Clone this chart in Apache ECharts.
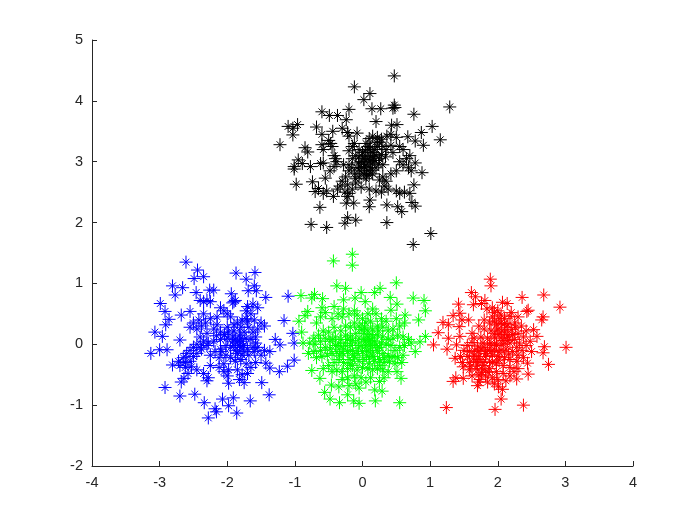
<!DOCTYPE html>
<html>
<head>
<meta charset="utf-8">
<script src="https://cdn.jsdelivr.net/npm/echarts@6/dist/echarts.min.js"></script>
<style>
  html, body { margin: 0; padding: 0; background: #fff; }
  #chart { width: 700px; height: 525px; }
</style>
</head>
<body>
<div id="chart"></div>
<script>
// 四个簇的散点
const blackPoints = [
  [.47,4.41],[-.12,4.23],[.11,4.12],[.02,4.02],[1.29,3.9],[.47,3.93],[.48,3.89],[.45,3.88],[.14,3.87],[.27,3.87],
  [-.2,3.86],[-.6,3.82],[.76,3.78],[-.49,3.76],[-.37,3.76],[-.24,3.69],[.2,3.66],[-1.1,3.58],[-.96,3.61],[-1.03,3.55],
  [-1.03,3.44],[-.68,3.57],[1.03,3.58],[.43,3.6],[.51,3.61],[.87,3.48],[1.15,3.36],[-1.22,3.28],[.67,3.41],[.78,3.34],
  [.9,3.27],[-.85,3.23],[-.81,3.16],[-.95,3.03],[-1.01,2.92],[-1.01,2.88],[-.89,2.97],[-.77,2.92],[-.62,2.97],[-.58,2.98],
  [-.98,2.63],[-.74,2.67],[.88,2.82],[.76,2.62],[-.63,2.25],[.36,2.29],[.52,2.26],[.58,2.18],[.73,2.33],[.78,2.27],
  [-.76,1.97],[-.53,1.92],[-.26,1.99],[-.22,2.08],[-.1,2.04],[.36,2],[1.01,1.82],[.75,1.64],[.11,2.37],[.1,2.26],
  [-.13,2.32],[-.24,2.32],[-.22,2.43],[-.43,2.43],[-.58,2.48],[-.7,2.51],[-.53,2.52],[-.65,2.56],[-.55,2.73],[-.48,2.85],
  [-.42,2.92],[-.47,3.3],[-.5,3.35],[-.45,3.25],[-.4,3.05],[-.38,3],[-.42,3.1],[-.6,3.45],[-.44,3.5],[-.3,3.55],
  [-.22,3.48],[-.2,3.42],[-.08,3.47],[-.58,3.2],[-.6,3.28],[-.2,3.18],[-.15,3.25],[-.12,3.3],[-.05,3.2],[0,3.15],
  [.05,3.3],[.1,3.38],[.15,3.42],[.22,3.4],[.28,3.37],[.36,3.42],[.42,3.45],[.5,3.4],[.3,3.25],[.35,3.2],
  [.42,3.27],[.55,3.25],[.6,3.2],[.45,3.15],[.7,3.1],[.65,3.05],[.55,3],[.6,2.95],[.68,2.9],[.72,2.85],
  [.78,2.98],[.5,2.85],[.42,2.8],[.3,2.95],[.25,3.05],[.2,3.1],[.15,3.15],[.1,3.2],[.05,3.1],[.02,3.05],
  [-.02,3],[.05,2.95],[.1,3],[.15,2.98],[.2,2.9],[.12,2.9],[.08,2.85],[.02,2.8],[-.04,2.85],[-.08,2.9],
  [-.12,2.8],[-.05,2.75],[.05,2.72],[.1,2.78],[.15,2.8],[-.2,2.95],[-.2,2.85],[-.25,2.75],[-.3,2.68],[-.22,2.62],
  [-.15,2.55],[-.1,2.65],[-.02,2.58],[.1,2.55],[.2,2.52],[.28,2.5],[.32,2.6],[.38,2.55],[.35,2.68],[.5,2.52],
  [.55,2.48],[.62,2.5],[.7,2.48],[.25,2.7],[.3,2.75],[.18,3.2],[.22,3.25],[.12,3.08],[.18,3.02],[-.1,3.1],
  [-.15,3.05],[.28,3.12],[-.26,2.5],[-.2,2.48],[-.33,2.6],[-.37,2.55],[.08,3.25],[.03,2.92],[.25,3.32],[-.06,2.98],
  [.04,3.18],[.12,3.24],[.2,3.32],[.16,3.08],[.08,3.04],[.02,2.98],[-.05,3.08],[-.02,2.9],[.06,2.78],[.14,2.86],
  [.24,2.96],[.34,3.08],[-.1,2.72],[-.16,2.9],[-.28,2.95]
];
const bluePoints = [
  [-2.61,1.35],[-2.44,1.22],[-2.35,1.11],[-2.49,1.08],[-1.87,1.17],[-1.59,1.18],[-1.72,1.07],[-1.6,.96],[-1.69,.88],[-1.57,.88],
  [-2.81,.96],[-2.66,.93],[-2.77,.81],[-2.46,.85],[-2.26,.89],[-2.2,.89],[-1.94,.83],[-1.43,.77],[-1.1,.79],[-2.99,.67],
  [-2.92,.54],[-2.86,.41],[-2.91,.32],[-2.68,.48],[-2.55,.54],[-1.16,.39],[-3.07,.2],[-2.96,.13],[-2.7,.07],[-3.13,-.15],
  [-3,-.09],[-2.89,-.09],[-1.03,.18],[-1.29,.08],[-1.22,-.01],[-1.01,.02],[-1.37,-.12],[-1.01,-.26],[-1.11,-.36],[-1.23,-.45],
  [-1.43,-.31],[-1.37,-.39],[-2.81,-.34],[-2.92,-.71],[-2.7,-.85],[-2.48,-.82],[-2.34,-.96],[-2.64,-.56],[-2.07,-.9],[-1.91,-.88],
  [-1.98,-1.01],[-1.66,-.93],[-1.38,-.83],[-1.49,-.63],[-1.75,-.63],[-1.86,-1.13],[-2.16,-1.11],[-2.28,-1.21],[-2.18,-1.06],[-1.98,-.64],
  [-2.3,-.6],[-2.35,-.48],[-2.53,-.37],[-2.4,.72],[-2.35,.7],[-2.3,.72],[-2.25,.7],[-1.9,.7],[-1.92,.68],[-1.88,.72],
  [-1.7,.62],[-1.62,.66],[-1.55,.6],[-1.65,.5],[-1.72,.55],[-2.1,.6],[-2.05,.55],[-2,.5],[-1.95,.45],[-2.15,.45],
  [-2.25,.42],[-2.35,.5],[-2.42,.4],[-2.5,.35],[-2.55,.28],[-2.45,.25],[-2.38,.3],[-1.85,.35],[-1.78,.4],[-1.7,.38],
  [-1.6,.4],[-1.5,.35],[-1.45,.3],[-1.55,.25],[-1.62,.2],[-1.75,.2],[-1.82,.15],[-1.9,.22],[-2,.28],[-2.1,.2],
  [-2.2,.25],[-2.3,.18],[-2.4,.12],[-2.35,.05],[-2.45,0],[-2.5,-.05],[-2.55,-.1],[-2.6,-.15],[-2.65,-.22],[-2.72,-.28],
  [-2.7,-.35],[-2.62,-.38],[-2.55,-.28],[-2.45,-.15],[-2.38,-.08],[-2.3,-.02],[-2.2,.05],[-2.1,.08],[-2,.1],[-1.92,.05],
  [-1.85,.02],[-1.78,.05],[-1.72,.1],[-1.65,.08],[-1.58,.02],[-1.55,-.05],[-1.6,-.12],[-1.68,-.18],[-1.75,-.12],[-1.8,-.05],
  [-1.88,-.1],[-1.95,-.05],[-2.02,-.02],[-2.1,-.08],[-2.18,-.12],[-2.25,-.18],[-2.12,-.22],[-2.02,-.18],[-1.95,-.22],[-1.88,-.28],
  [-1.8,-.25],[-1.72,-.32],[-1.65,-.38],[-1.58,-.3],[-1.5,-.18],[-1.45,-.1],[-2.05,-.32],[-2.12,-.38],[-2.05,-.45],[-2,-.52],
  [-1.98,-.42],[-1.85,-.42],[-1.78,-.5],[-1.7,-.48],[-1.82,-.58],[-2.45,-.42],[-2.58,-.48],[-2.68,-.62],[-2.25,-.35],[-1.92,.12],
  [-1.88,.08],[-1.82,-.02],[-1.85,-.15],[-1.8,.1],[-2.32,.35],[-2.15,.32],[-1.68,.28],[-1.58,.12],[-2.08,-.12],[-2.28,-.55],
  [-2.28,.02],[-2.4,-.05],[-1.9,.32],[-1.8,.28],[-1.72,.42],[-2.04,.16],[-1.76,-.02],[-1.7,-.08],[-1.62,-.05],[-1.98,.2],
  [-2.62,-.3],[-2.5,-.2],[-1.9,-.02],[-1.78,-.18],[-2.16,.14]
];
const greenPoints = [
  [-.15,1.48],[-.15,1.3],[-.43,1.37],[.5,1.01],[-.38,.96],[-.25,.92],[.26,.92],[.18,.85],[-.02,.85],[-.11,.76],
  [.04,.7],[-.28,.73],[-.91,.8],[-.71,.82],[-.75,.76],[-.59,.75],[.75,.76],[.91,.72],[.93,.55],[.41,.77],
  [.51,.66],[.42,.56],[.83,.4],[.63,.48],[-.81,.54],[-.85,.47],[-.94,.38],[-.9,.2],[-.68,.35],[-.88,.02],
  [-.8,-.15],[.93,.13],[.85,.04],[.78,-.12],[-.75,-.43],[-.63,-.56],[-.56,-.79],[-.48,-.9],[-.34,-.96],[-.46,-.67],
  [-.22,-.83],[-.13,-.93],[-.05,-.97],[.19,-.93],[.55,-.96],[.29,-.77],[.18,-.75],[.57,-.56],[.51,-.45],[.25,-.61],
  [-.05,-.72],[-.6,.6],[-.55,.52],[-.62,.45],[-.42,.62],[-.36,.5],[-.45,.42],[-.3,.45],[-.2,.5],[-.12,.55],
  [-.08,.48],[0,.42],[.08,.5],[.15,.58],[.2,.5],[.28,.42],[.05,.35],[.12,.38],[.35,.38],[.5,.42],
  [.55,.3],[.62,.35],[.45,.25],[.38,.22],[.3,.28],[.22,.3],[.15,.25],[.08,.22],[.02,.18],[-.05,.3],
  [-.12,.35],[-.18,.28],[-.25,.3],[-.32,.22],[-.42,.28],[-.5,.2],[-.58,.22],[-.65,.15],[-.72,.1],[-.78,.02],
  [-.7,0],[-.62,.05],[-.55,.1],[-.48,.05],[-.4,.12],[-.32,.08],[-.25,.15],[-.18,.12],[-.1,.18],[-.05,.1],
  [.02,.08],[.08,.12],[.15,.1],[.22,.15],[.3,.12],[.38,.08],[.45,.1],[.52,.15],[.6,.12],[.68,.08],
  [.72,.02],[.62,-.02],[.55,-.05],[.48,-.1],[.42,-.02],[.35,0],[.28,.02],[.2,-.02],[.12,0],[.05,-.03],
  [-.02,-.02],[-.1,.02],[-.18,-.02],[-.25,.02],[-.32,-.04],[-.4,-.02],[-.48,-.08],[-.55,-.05],[-.62,-.1],[-.72,-.12],
  [-.68,-.22],[-.6,-.2],[-.52,-.18],[-.45,-.15],[-.38,-.12],[-.3,-.15],[-.22,-.12],[-.15,-.1],[-.08,-.15],[0,-.12],
  [.08,-.1],[.15,-.13],[.22,-.1],[.3,-.15],[.38,-.18],[.45,-.2],[.52,-.22],[.6,-.18],[.58,-.3],[.48,-.32],
  [.4,-.28],[.32,-.3],[.25,-.25],[.18,-.28],[.1,-.22],[.02,-.25],[-.05,-.28],[-.12,-.22],[-.2,-.25],[-.28,-.3],
  [-.35,-.25],[-.42,-.3],[-.5,-.35],[-.58,-.4],[-.45,-.45],[-.38,-.42],[-.3,-.45],[-.22,-.4],[-.15,-.35],[-.08,-.42],
  [0,-.38],[.08,-.4],[.15,-.42],[.22,-.4],[.3,-.42],[.38,-.45],[-.3,-.58],[-.22,-.55],[-.12,-.52],[-.02,-.55],
  [.05,-.62],[.12,-.55],[-.35,-.7],[-.2,-.68],[-.1,-.65],[.32,-.55],[.03,.27],[-.28,.58],
  [-.15,.06],[-.06,-.06],[.04,.04],[.1,.06],[.18,.04],[.25,-.05],[.12,-.06],[-.22,.08],[-.35,.02],[-.28,-.08],
  [.06,-.18],[.16,-.2],[-.14,-.18],[-.44,.08],[.14,.16],[.24,.22],[-.02,.24],[.32,-.22],[.26,-.35],[.1,-.32],
  [-.18,-.32],[-.34,-.18]
];
const redPoints = [
  [1.89,1.07],[1.9,.96],[1.61,.85],[1.67,.78],[2.36,.77],[2.68,.81],[2.92,.61],[1.42,.66],[1.64,.65],[1.76,.67],
  [1.81,.72],[2.07,.69],[2.14,.67],[2.45,.56],[2.43,.54],[2.67,.45],[2.65,.4],[1.34,.47],[1.44,.51],[1.47,.4],
  [1.57,.4],[1.19,.36],[1.27,.32],[1.43,.29],[1.12,.19],[1.27,.1],[1.44,.13],[1.62,.18],[1.05,-.01],[1.25,-.08],
  [1.39,-.01],[3.01,-.05],[2.69,-.04],[2.58,.13],[2.53,.24],[2.67,-.14],[2.75,-.33],[2.44,-.31],[2.45,-.49],[2.28,-.57],
  [1.37,-.23],[1.49,-.37],[1.34,-.61],[1.38,-.55],[1.49,-.56],[1.7,-.68],[1.74,-.58],[2.01,-.7],[2.07,-.74],[2.05,-.9],
  [1.96,-1.07],[2.38,-1],[1.24,-1.04],[1.95,.52],[2,.55],[2.05,.48],[2.18,.46],[2.3,.45],[1.8,.4],[1.88,.35],
  [1.95,.38],[2.05,.35],[2.15,.32],[2.25,.35],[2.35,.3],[2.42,.22],[1.72,.3],[1.8,.25],[1.9,.22],[2,.25],
  [2.1,.2],[2.2,.24],[2.3,.18],[2.38,.12],[2.48,.05],[1.75,.12],[1.85,.1],[1.95,.12],[2.05,.1],[2.15,.12],
  [2.25,.08],[2.32,.02],[2.42,-.02],[2.5,-.12],[1.55,-.02],[1.62,.03],[1.7,-.03],[1.78,.02],[1.88,0],[1.98,.02],
  [2.08,0],[2.18,.02],[2.28,-.05],[2.36,-.1],[1.5,-.1],[1.58,-.12],[1.66,-.1],[1.75,-.08],[1.85,-.1],[1.95,-.08],
  [2.05,-.1],[2.12,-.08],[2.22,-.12],[2.3,-.18],[2.38,-.22],[1.45,-.2],[1.55,-.2],[1.65,-.18],[1.72,-.2],[1.82,-.2],
  [1.92,-.18],[2,-.2],[2.1,-.22],[2.18,-.25],[2.28,-.28],[1.48,-.3],[1.58,-.3],[1.68,-.28],[1.78,-.3],[1.88,-.28],
  [1.98,-.32],[2.08,-.35],[2.18,-.38],[2.3,-.4],[1.58,-.42],[1.68,-.4],[1.78,-.42],[1.88,-.4],[1.98,-.45],[2.08,-.48],
  [2.18,-.52],[1.62,-.52],[1.72,-.5],[1.82,-.52],[1.92,-.55],[2,-.58],[2.12,-.6],[1.85,-.62],[1.95,-.65],[1.72,-.62],
  [1.9,.02],[2.02,.16],[2.12,.28],[1.98,-.02],[2.08,.06],[1.82,-.15],[2.02,.42],[1.92,.45],[2.1,.42],[1.65,.1],
  [1.84,.58],[1.92,.6],[2.2,.52],[1.72,-.12],[2.02,-.13],[1.6,-.36],[2.24,-.45],[2.15,.15],
  [1.8,-.05],[1.74,-.25],[1.8,-.35],[1.86,-.46],[1.92,-.3],[1.9,-.12],[2.02,-.26],[2.06,.22],[2.14,.06],[2.22,.16],
  [1.98,.32],[2.1,.34],[1.64,-.24],[1.7,-.34],[2.26,.28],[1.96,.18],[2.16,-.16],[1.76,-.46]
];
const xTicks = [-4, -3, -2, -1, 0, 1, 2, 3, 4];
const yTicks = [-2, -1, 0, 1, 2, 3, 4, 5];

const starSymbol = 'path://M0,-6.5L0,6.5M-6.5,0L6.5,0M-3.4,-3.4L3.4,3.4M-3.4,3.4L3.4,-3.4';

const makeSeries = (data, color) => ({
  type: 'scatter',
  data,
  symbol: starSymbol,
  symbolSize: 13,
  itemStyle: { color: 'none', borderColor: color, borderWidth: 1, opacity: 1 },
  silent: true,
  animation: false
});

const makeAxis = (ticks) => ({
  type: 'value',
  min: ticks[0],
  max: ticks[ticks.length - 1],
  interval: 1,
  splitLine: { show: false },
  axisLine: { onZero: false, lineStyle: { color: '#262626', width: 1 } },
  axisTick: { inside: true, length: 5, lineStyle: { color: '#262626', width: 1 } },
  axisLabel: { color: '#262626', fontFamily: 'Liberation Sans', fontSize: 14.5, margin: 9 }
});

const chart = echarts.init(document.getElementById('chart'), null, { renderer: 'canvas' });
chart.setOption({
  animation: false,
  backgroundColor: '#fff',
  grid: { left: 92, right: 67, top: 40, bottom: 59 },
  xAxis: makeAxis(xTicks),
  yAxis: makeAxis(yTicks),
  series: [
    makeSeries(blackPoints, '#000000'),
    makeSeries(bluePoints, '#0000ff'),
    makeSeries(greenPoints, '#00ff00'),
    makeSeries(redPoints, '#ff0000')
  ]
});
</script>
</body>
</html>
